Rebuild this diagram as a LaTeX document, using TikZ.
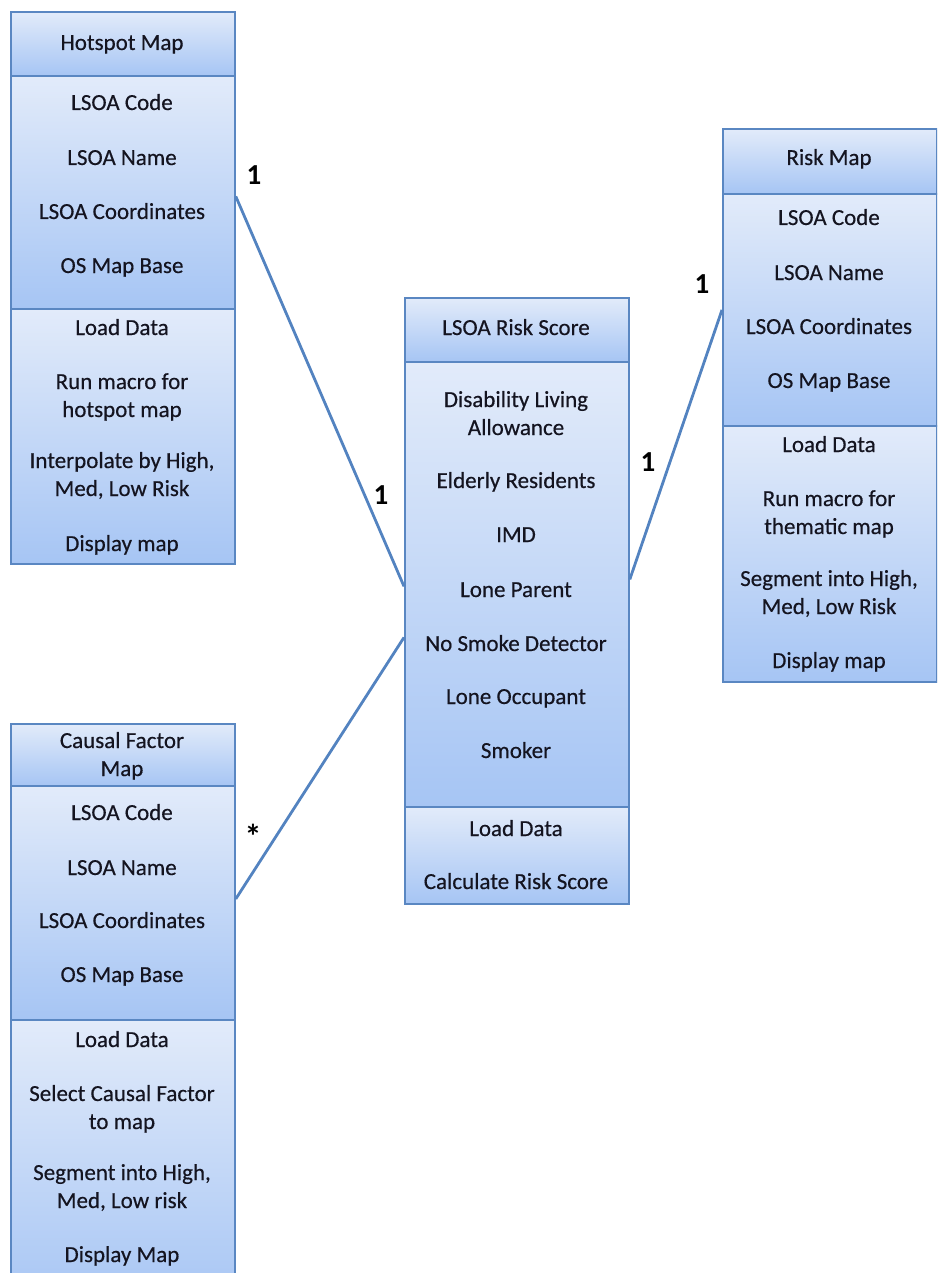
\documentclass[tikz,border=0pt]{standalone}
\usepackage{fontspec}
\setmainfont{Carlito}[FakeBold=0.4]
\newfontfamily\labelfont{Carlito}
\usetikzlibrary{shadows,calc}

\definecolor{umlborder}{HTML}{5A87C2}
\definecolor{umlline}{HTML}{5383C0}
\definecolor{shadetop}{HTML}{E2EBFA}
\definecolor{shadebot}{HTML}{A6C5F4}
\definecolor{ink}{HTML}{141420}

\tikzset{
  compart/.style={draw=umlborder, line width=1.8pt, top color=shadetop,
    bottom color=shadebot, inner sep=0pt, anchor=north west,
    minimum width=224pt,
    drop shadow={shadow xshift=1.5pt, shadow yshift=-1.5pt, opacity=0.3}},
  item/.style={font=\fontsize{23}{28}\selectfont\addfontfeatures{FakeBold=0.4}, text=ink, align=center,
    inner sep=0pt, anchor=base},
  link/.style={draw=umlline, line width=2.8pt},
  mult/.style={font=\labelfont\fontsize{29}{30}\selectfont\bfseries, text=black, inner sep=0pt}
}

\begin{document}
\begin{tikzpicture}[x=1pt, y=-1pt]
  \useasboundingbox (0,0) rectangle (937,1273);
  \clip (0,0) rectangle (937,1273);

  % ---------- Hotspot Map ----------
  \node[compart, minimum height=64pt]  (hshead) at (10,11)  {};
  \node[compart, minimum height=233pt] (hsattr) at (10,75)  {};
  \node[compart, minimum height=255pt] (hsmeth) at (10,308) {};
  \node[item] (hs0) at (122,50)  {Hotspot Map};
  \node[item] (hs1) at (122,110) {LSOA Code};
  \node[item] (hs2) at (122,165) {LSOA Name};
  \node[item] (hs3) at (122,219) {LSOA Coordinates};
  \node[item] (hs4) at (122,273) {OS Map Base};
  \node[item] (hs5) at (122,335) {Load Data};
  % two-line entries are placed by the baseline of their last line
  \node[item] (hs6) at (122,417) {Run macro for\\hotspot map};
  \node[item] (hs7) at (122,496) {Interpolate by High,\\Med, Low Risk};
  \node[item] (hs8) at (122,551) {Display map};

  % ---------- LSOA Risk Score ----------
  \node[compart, minimum height=64pt]  (rshead) at (404,297) {};
  \node[compart, minimum height=445pt] (rsattr) at (404,361) {};
  \node[compart, minimum height=97pt]  (rsmeth) at (404,806) {};
  \node[item] (rs0) at (516,335) {LSOA Risk Score};
  \node[item] (rs1) at (516,435) {Disability Living\\Allowance};
  \node[item] (rs2) at (516,488) {Elderly Residents};
  \node[item] (rs3) at (516,542) {IMD};
  \node[item] (rs4) at (516,597) {Lone Parent};
  \node[item] (rs5) at (516,651) {No Smoke Detector};
  \node[item] (rs6) at (516,704) {Lone Occupant};
  \node[item] (rs7) at (516,758) {Smoker};
  \node[item] (rs8) at (516,836) {Load Data};
  \node[item] (rs9) at (516,889) {Calculate Risk Score};

  % ---------- Risk Map ----------
  \node[compart, minimum width=214pt, minimum height=65pt]  (rmhead) at (722,128) {};
  \node[compart, minimum width=214pt, minimum height=232pt] (rmattr) at (722,193) {};
  \node[compart, minimum width=214pt, minimum height=256pt] (rmmeth) at (722,425) {};
  \node[item] (rm0) at (829,165) {Risk Map};
  \node[item] (rm1) at (829,225) {LSOA Code};
  \node[item] (rm2) at (829,280) {LSOA Name};
  \node[item] (rm3) at (829,334) {LSOA Coordinates};
  \node[item] (rm4) at (829,388) {OS Map Base};
  \node[item] (rm5) at (829,452) {Load Data};
  \node[item] (rm6) at (829,534) {Run macro for\\thematic map};
  \node[item] (rm7) at (829,614) {Segment into High,\\Med, Low Risk};
  \node[item] (rm8) at (829,668) {Display map};

  % ---------- Causal Factor Map ----------
  \node[compart, minimum height=62pt]  (cfhead) at (10,723)  {};
  \node[compart, minimum height=234pt] (cfattr) at (10,785)  {};
  \node[compart, minimum height=290pt] (cfmeth) at (10,1019) {};
  \node[item] (cf0) at (122,776)  {Causal Factor\\Map};
  \node[item] (cf1) at (122,820)  {LSOA Code};
  \node[item] (cf2) at (122,875)  {LSOA Name};
  \node[item] (cf3) at (122,928)  {LSOA Coordinates};
  \node[item] (cf4) at (122,982)  {OS Map Base};
  \node[item] (cf5) at (122,1047) {Load Data};
  \node[item] (cf6) at (122,1129) {Select Causal Factor\\to map};
  \node[item] (cf7) at (122,1208) {Segment into High,\\Med, Low risk};
  \node[item] (cf8) at (122,1262) {Display Map};

  % ---------- Associations ----------
  \draw[link] ($(hsattr.east)+(0,4)$) -- ($(rsattr.west)+(0,2)$);
  \draw[link] ($(rsattr.east)+(0,-5)$) -- (rmattr.west);
  \draw[link] ($(cfattr.east)+(0,-4)$) -- ($(rsattr.west)+(0,53)$);

  % ---------- Multiplicities ----------
  \node[mult] (m1) at (254,175) {1};
  \node[mult] (m2) at (381,495) {1};
  \node[mult] (m3) at (648,462) {1};
  \node[mult] (m4) at (702,284) {1};
  \node[mult, font=\labelfont\fontsize{34}{34}\selectfont\bfseries] (m5) at (253,836) {*};
\end{tikzpicture}
\end{document}
